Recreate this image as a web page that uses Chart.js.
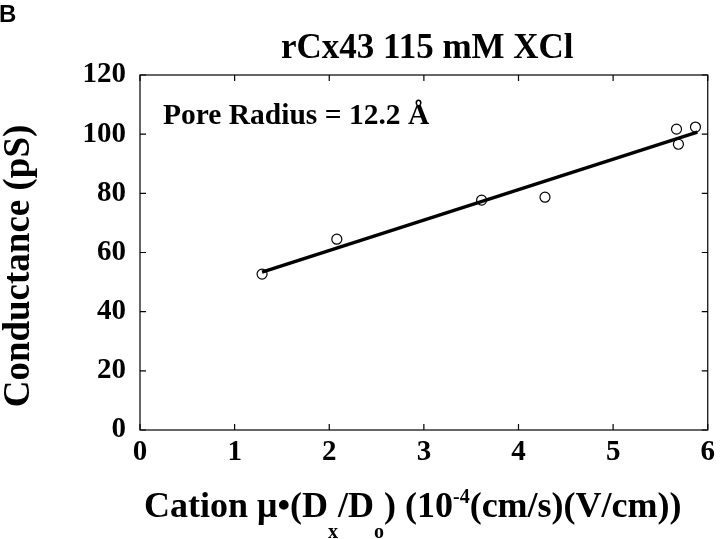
<!DOCTYPE html>
<html>
<head>
<meta charset="utf-8">
<script src="https://cdn.jsdelivr.net/npm/chart.js@4"></script>
<style>
  html, body { margin: 0; padding: 0; background: #fff; }
  #wrap { width: 720px; height: 539px; }
</style>
</head>
<body>
<div id="wrap"><canvas id="scatter-chart"></canvas></div>
<script>
// measured points
const mobility = [1.29, 2.08, 3.61, 4.28, 5.67, 5.69, 5.87];
const conductance = [52.7, 64.5, 77.7, 78.7, 101.7, 96.6, 102.4];
// fitted line end points
const fitX = [1.29, 5.89];
const fitY = [53.4, 100.7];
const xTicks = [0, 1, 2, 3, 4, 5, 6];
const yTicks = [0, 20, 40, 60, 80, 100, 120];

const serif = "'Liberation Serif', 'Times New Roman', serif";

// box, inner ticks and the texts with sub/superscripts
const decorations = {
  id: 'decorations',
  afterDraw(chart) {
    const ctx = chart.ctx;
    const area = chart.chartArea;
    const xs = chart.scales.x;
    const ys = chart.scales.y;
    ctx.save();
    ctx.strokeStyle = '#000';
    ctx.lineWidth = 1.2;
    ctx.strokeRect(area.left, area.top, area.right - area.left, area.bottom - area.top);
    ctx.beginPath();
    xTicks.forEach(v => {
      const px = xs.getPixelForValue(v);
      ctx.moveTo(px, area.bottom); ctx.lineTo(px, area.bottom - 6);
      ctx.moveTo(px, area.top); ctx.lineTo(px, area.top + 6);
    });
    yTicks.forEach(v => {
      const py = ys.getPixelForValue(v);
      ctx.moveTo(area.left, py); ctx.lineTo(area.left + 6, py);
      ctx.moveTo(area.right, py); ctx.lineTo(area.right - 6, py);
    });
    ctx.stroke();

    ctx.fillStyle = '#000';
    ctx.textBaseline = 'alphabetic';
    ctx.textAlign = 'left';

    ctx.font = "bold 24px 'Liberation Sans', Arial, sans-serif";
    ctx.fillText('B', -1, 22);

    ctx.font = 'bold 35px ' + serif;
    ctx.fillText('rCx43 115 mM XCl', 281, 58);

    ctx.font = 'bold 29.5px ' + serif;
    ctx.fillText('Pore Radius = 12.2 Å', 163, 124);

    // y axis title
    ctx.save();
    ctx.translate(29, 266);
    ctx.rotate(-Math.PI / 2);
    ctx.textAlign = 'center';
    ctx.font = 'bold 37px ' + serif;
    ctx.fillText('Conductance (pS)', 0, 0);
    ctx.restore();

    // x axis title
    const big = 'bold 36px ' + serif;
    const small = 'bold 20px ' + serif;
    const parts = [
      ['Cation μ•(D', big, 0],
      ['x', small, 21],
      ['/D', big, 0],
      ['o', small, 21],
      [') (10', big, 0],
      ['-4', small, -14],
      ['(cm/s)(V/cm))', big, 0]
    ];
    let x = 144;
    parts.forEach(p => {
      ctx.font = p[1];
      ctx.fillText(p[0], x, 517 + p[2]);
      x += ctx.measureText(p[0]).width;
    });
    ctx.restore();
  }
};

new Chart(document.getElementById('scatter-chart'), {
  type: 'scatter',
  data: {
    datasets: [
      {
        label: 'Data',
        data: mobility.map((m, i) => ({ x: m, y: conductance[i] })),
        pointRadius: 5,
        pointBorderWidth: 1.2,
        pointBorderColor: '#000',
        pointBackgroundColor: 'rgba(255,255,255,0)',
        order: 1
      },
      {
        label: 'Fit',
        type: 'line',
        data: fitX.map((m, i) => ({ x: m, y: fitY[i] })),
        borderColor: '#000',
        borderWidth: 3.4,
        pointRadius: 0,
        fill: false,
        order: 2
      }
    ]
  },
  options: {
    responsive: true,
    maintainAspectRatio: false,
    animation: false,
    layout: { padding: { top: 75, right: 8, left: 0, bottom: 0 } },
    plugins: {
      legend: { display: false },
      title: { display: false },
      tooltip: { enabled: false }
    },
    scales: {
      x: {
        type: 'linear',
        min: 0,
        max: 6,
        afterBuildTicks: s => { s.ticks = xTicks.map(v => ({ value: v })); },
        afterFit: s => { s.height = 109; },
        grid: { display: false, drawTicks: false },
        border: { display: false },
        ticks: {
          color: '#000',
          padding: 5,
          font: { family: serif, size: 29, weight: 'bold' }
        }
      },
      y: {
        type: 'linear',
        min: 0,
        max: 120,
        afterBuildTicks: s => { s.ticks = yTicks.map(v => ({ value: v })); },
        afterFit: s => { s.width = 140; },
        grid: { display: false, drawTicks: false },
        border: { display: false },
        ticks: {
          color: '#000',
          padding: 14,
          font: { family: serif, size: 29, weight: 'bold' }
        }
      }
    }
  },
  plugins: [decorations]
});
</script>
</body>
</html>
